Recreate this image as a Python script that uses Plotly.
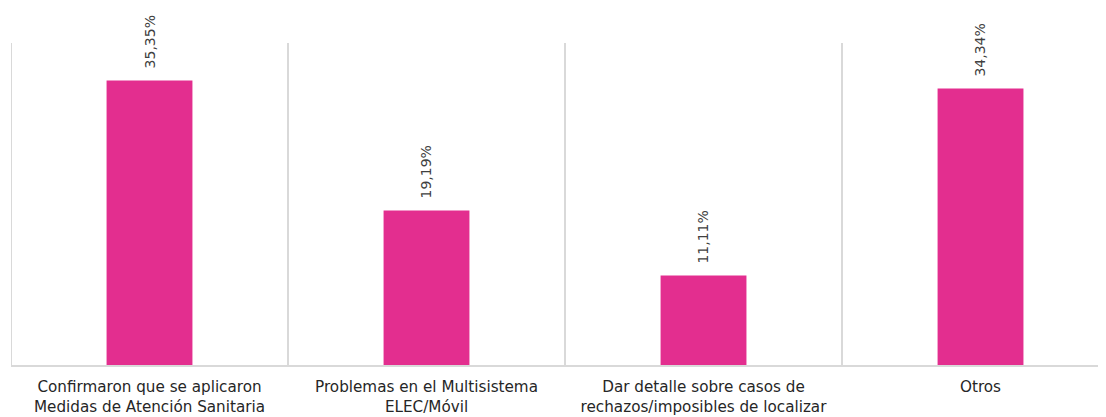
import plotly.graph_objects as go

categories = [
    "Confirmaron que se aplicaron<br>Medidas de Atención Sanitaria",
    "Problemas en el Multisistema<br>ELEC/Móvil",
    "Dar detalle sobre casos de<br>rechazos/imposibles de localizar",
    "Otros",
]
values = [35.35, 19.19, 11.11, 34.34]
labels = ["35,35%", "19,19%", "11,11%", "34,34%"]

xs = list(range(len(categories)))
Y_MAX = 40

fig = go.Figure(
    go.Bar(
        x=xs,
        y=values,
        marker=dict(color="#E32E8F", line=dict(width=0)),
        width=0.31,
        cliponaxis=False,
    )
)

for x, v, t in zip(xs, values, labels):
    fig.add_annotation(
        x=x, y=v, text=t, showarrow=False, textangle=-90,
        xanchor="center", yanchor="bottom", yshift=10,
        font=dict(family="DejaVu Sans", size=14, color="#404040"),
    )

for i in range(len(categories)):
    fig.add_shape(
        type="line", xref="x", yref="y",
        x0=i - 0.5, x1=i - 0.5, y0=0, y1=Y_MAX,
        line=dict(color="#D9D9D9", width=2), layer="below",
    )

fig.update_layout(
    width=1106,
    height=417,
    margin=dict(l=3, r=8, t=35, b=60),
    paper_bgcolor="white",
    plot_bgcolor="white",
    showlegend=False,
    font=dict(family="DejaVu Sans", size=15, color="#262626"),
)
fig.update_xaxes(
    range=[-0.5, 3.453],
    tickmode="array",
    tickvals=xs,
    ticktext=categories,
    showgrid=False,
    showline=True,
    linecolor="#D9D9D9",
    linewidth=2,
    ticks="",
    ticklabelstandoff=7,
    tickfont=dict(family="DejaVu Sans", size=15.2, color="#262626"),
    zeroline=False,
    automargin=False,
)
fig.update_yaxes(
    range=[0, Y_MAX],
    showgrid=False,
    showticklabels=False,
    zeroline=False,
    showline=False,
    automargin=False,
)

fig.write_html("out.html")
